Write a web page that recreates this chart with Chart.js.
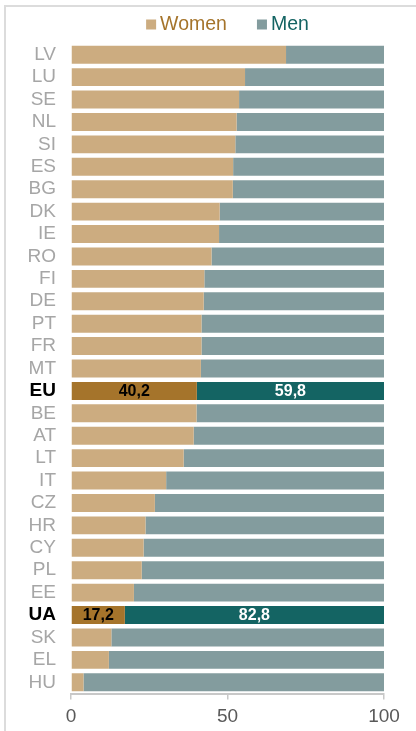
<!DOCTYPE html>
<html>
<head>
<meta charset="utf-8">
<script src="https://cdn.jsdelivr.net/npm/chart.js@4/dist/chart.umd.min.js"></script>
<style>
  html, body { margin: 0; padding: 0; background: #ffffff; }
  #wrap { position: relative; width: 416px; height: 731px; }
</style>
</head>
<body>
<div id="wrap"><canvas id="chart"></canvas></div>
<script>
// Share of women and men (%) by country
const countries = ['LV','LU','SE','NL','SI','ES','BG','DK','IE','RO','FI','DE','PT','FR','MT','EU',
                   'BE','AT','LT','IT','CZ','HR','CY','PL','EE','UA','SK','EL','HU'];
const women = [68.7, 55.6, 53.7, 52.9, 52.5, 51.8, 51.7, 47.5, 47.3, 44.9, 42.6, 42.4, 41.7, 41.7, 41.5, 40.2,
               40.1, 39.2, 36.0, 30.4, 26.8, 23.8, 23.2, 22.6, 20.1, 17.2, 12.9, 12.1, 4.0];
const men = women.map(v => Math.round((100 - v) * 10) / 10);
const highlighted = ['EU', 'UA'];
const xTicks = [0, 50, 100];

const FONT = "'Liberation Sans', Arial, sans-serif";
const COLORS = {
  women: '#ccac80', men: '#839c9e',
  womenHi: '#a5742b', menHi: '#146463',
  womenText: '#a5742b', menText: '#146463'
};
const isHi = i => highlighted.includes(countries[i]);

// Light frame along the top and left edges
const framePlugin = {
  id: 'frame',
  beforeDraw(chart) {
    const c = chart.ctx;
    c.save();
    c.fillStyle = '#dcdcdc';
    c.fillRect(4, 5, 2, chart.height - 5);
    c.fillRect(4, 5, chart.width - 4, 2);
    c.restore();
  }
};

// Legend row centred over the plot area
const legendRow = {
  id: 'legendRow',
  afterDraw(chart) {
    const c = chart.ctx;
    const area = chart.chartArea;
    const items = chart.data.datasets.map(ds => ({
      text: ds.label, box: ds.legendBox, color: ds.legendText
    }));
    c.save();
    c.font = '19.5px ' + FONT;
    c.textBaseline = 'middle';
    const box = 10, gapText = 4, gapItem = 30;
    const widths = items.map(it => box + gapText + c.measureText(it.text).width);
    const total = widths.reduce((a, b) => a + b, 0) + gapItem * (items.length - 1);
    let x = (area.left + area.right) / 2 - total / 2;
    const y = 24.5;
    items.forEach((it, k) => {
      c.fillStyle = it.box;
      c.fillRect(x, y - 5, box, box);
      c.fillStyle = it.color;
      c.textAlign = 'left';
      c.fillText(it.text, x + box + gapText, y);
      x += widths[k] + gapItem;
    });
    c.restore();
  }
};

// Value labels on the highlighted rows
const valueLabels = {
  id: 'valueLabels',
  afterDatasetsDraw(chart) {
    const c = chart.ctx;
    c.save();
    c.font = 'bold 16px ' + FONT;
    c.textAlign = 'center';
    c.textBaseline = 'middle';
    chart.data.datasets.forEach((ds, di) => {
      const meta = chart.getDatasetMeta(di);
      meta.data.forEach((bar, i) => {
        if (!isHi(i)) return;
        const p = bar.getProps(['x', 'y', 'base'], true);
        const cx = (p.x + p.base) / 2;
        c.fillStyle = di === 0 ? '#000000' : '#ffffff';
        c.fillText(ds.data[i].toFixed(1).replace('.', ','), cx, p.y + 1);
      });
    });
    c.restore();
  }
};

new Chart(document.getElementById('chart'), {
  type: 'bar',
  data: {
    labels: countries,
    datasets: [
      {
        label: 'Women',
        data: women,
        backgroundColor: women.map((_, i) => isHi(i) ? COLORS.womenHi : COLORS.women),
        legendBox: COLORS.women, legendText: COLORS.womenText
      },
      {
        label: 'Men',
        data: men,
        backgroundColor: men.map((_, i) => isHi(i) ? COLORS.menHi : COLORS.men),
        legendBox: COLORS.men, legendText: COLORS.menText
      }
    ]
  },
  options: {
    indexAxis: 'y',
    responsive: true,
    maintainAspectRatio: false,
    animation: false,
    datasets: { bar: { categoryPercentage: 1, barPercentage: 0.8, borderWidth: 0 } },
    layout: { padding: { top: 43.5, right: 32, bottom: 0, left: 0 } },
    plugins: { legend: { display: false }, tooltip: { enabled: false } },
    scales: {
      x: {
        stacked: true,
        min: 0, max: 100,
        afterBuildTicks(scale) { scale.ticks = xTicks.map(v => ({ value: v })); },
        afterFit(scale) { scale.height = 37.5; },
        grid: { drawOnChartArea: false, drawTicks: true, tickLength: 6, color: '#c8c8c8', lineWidth: 1.5 },
        border: { display: true, color: '#c8c8c8', width: 2 },
        ticks: { color: '#595959', font: { family: FONT, size: 19 }, padding: 6 }
      },
      y: {
        stacked: true,
        afterFit(scale) { scale.width = 71; },
        grid: { display: false, drawTicks: false },
        border: { display: false },
        ticks: {
          padding: 15,
          autoSkip: false,
          color: c => isHi(c.index) ? '#000000' : '#a6a6a6',
          font: c => ({ family: FONT, size: 19, weight: isHi(c.index) ? 'bold' : 'normal' })
        }
      }
    }
  },
  plugins: [framePlugin, legendRow, valueLabels]
});
</script>
</body>
</html>
